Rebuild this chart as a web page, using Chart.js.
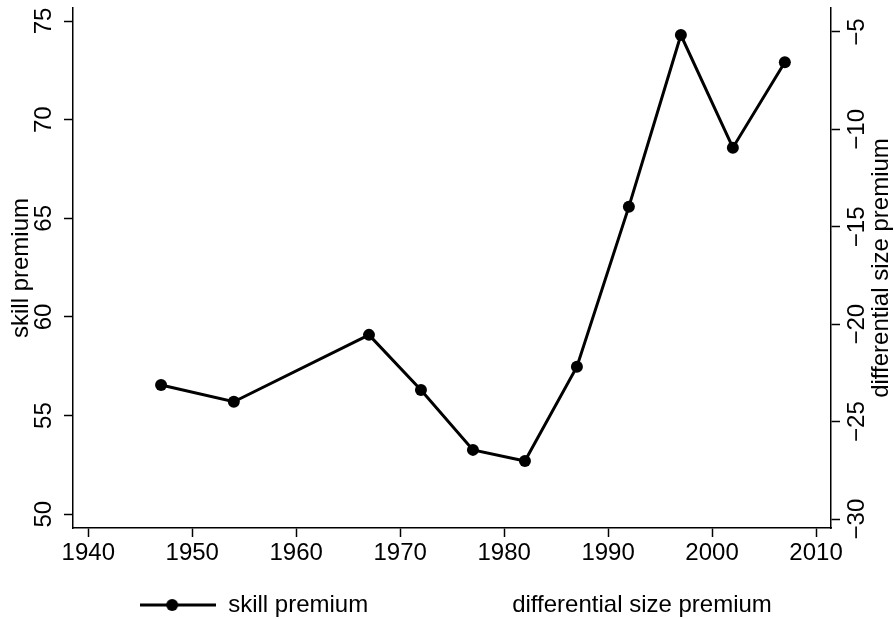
<!DOCTYPE html>
<html>
<head>
<meta charset="utf-8">
<script src="https://cdn.jsdelivr.net/npm/chart.js@4.4.1/dist/chart.umd.min.js"></script>
<style>
  html, body { margin: 0; padding: 0; background: #fff; }
</style>
</head>
<body>
<canvas id="chart" width="894" height="619"></canvas>
<script>
// data
var years = [1947, 1954, 1967, 1972, 1977, 1982, 1987, 1992, 1997, 2002, 2007];
var skillPremium = [56.55, 55.7, 59.09, 56.3, 53.26, 52.7, 57.48, 65.59, 74.29, 68.58, 72.91];
var sizePremium = []; // no marks visible for this series

var xTicks = [1940, 1950, 1960, 1970, 1980, 1990, 2000, 2010];
var leftTicks = [50, 55, 60, 65, 70, 75];
var rightTicks = [-30, -25, -20, -15, -10, -5];

var FONT = '"Liberation Sans", Arial, Helvetica, sans-serif';
Chart.defaults.font.family = FONT;
Chart.defaults.font.size = 24;
Chart.defaults.color = '#000';

// legend symbol: line with a dot
function lineSymbol(withDot) {
	var c = document.createElement('canvas');
	c.width = 76;
	c.height = 14;
	if (withDot) {
		var g = c.getContext('2d');
		g.strokeStyle = '#000';
		g.fillStyle = '#000';
		g.lineWidth = 3;
		g.beginPath();
		g.moveTo(0, 7);
		g.lineTo(76, 7);
		g.stroke();
		g.beginPath();
		g.arc(32, 7, 6, 0, Math.PI * 2);
		g.fill();
	}
	return c;
}
var symbols = [lineSymbol(true), lineSymbol(false)];

function minusFmt(v) {
	return v < 0 ? '\u2212' + Math.abs(v) : String(v);
}

function fixedTicks(list) {
	return function(scale) {
		scale.ticks = list.map(function(v) { return { value: v }; });
	};
}

// fixed box size, and no extra room for labels hanging over the ends
function fixSize(key, px) {
	return function(s) {
		s[key] = px;
		s.paddingTop = 0;
		s.paddingBottom = 0;
		s.paddingLeft = 0;
		s.paddingRight = 0;
	};
}

var axisGrid = {
	drawOnChartArea: false,
	drawTicks: true,
	tickLength: 9,
	tickColor: '#000',
	tickWidth: 1.5
};
var axisBorder = { color: '#000', width: 1.5 };

// right axis title reads bottom-to-top, so draw it here
var rightTitle = {
	id: 'rightTitle',
	afterDraw: function(chart) {
		var ctx = chart.ctx;
		var area = chart.chartArea;
		ctx.save();
		ctx.translate(881, (area.top + area.bottom) / 2);
		ctx.rotate(-Math.PI / 2);
		ctx.font = '24px ' + FONT;
		ctx.fillStyle = '#000';
		ctx.textAlign = 'center';
		ctx.textBaseline = 'middle';
		ctx.fillText('differential size premium', 0, 0);
		ctx.restore();
	}
};

// pull the legend up a little, closer to the x labels
var legendShift = {
	id: 'legendShift',
	afterLayout: function(chart) {
		if (chart.legend) {
			chart.legend.top -= 31;
			chart.legend.bottom -= 31;
		}
	}
};

var ctx = document.getElementById('chart').getContext('2d');
var chart = new Chart(ctx, {
	type: 'line',
	data: {
		datasets: [{
			label: 'skill premium',
			data: years.map(function(y, i) { return { x: y, y: skillPremium[i] }; }),
			borderColor: '#000',
			backgroundColor: '#000',
			borderWidth: 3,
			pointRadius: 6,
			pointBackgroundColor: '#000',
			pointBorderWidth: 0,
			tension: 0,
			yAxisID: 'y'
		}, {
			label: 'differential size premium',
			data: sizePremium,
			borderColor: '#000',
			borderWidth: 3,
			pointRadius: 0,
			yAxisID: 'y1'
		}]
	},
	options: {
		responsive: false,
		animation: false,
		layout: { autoPadding: false, padding: { top: 8, left: 18, right: 0, bottom: -39 } },
		plugins: {
			tooltip: { enabled: false },
			legend: {
				position: 'bottom',
				labels: {
					usePointStyle: true,
					pointStyleWidth: 76,
					padding: 56,
					color: '#000',
					font: { size: 24 },
					generateLabels: function(chart) {
						var items = Chart.defaults.plugins.legend.labels.generateLabels(chart);
						items.forEach(function(it, i) { it.pointStyle = symbols[i]; });
						return items;
					}
				}
			}
		},
		scales: {
			x: {
				type: 'linear',
				position: 'bottom',
				min: 1938.53,
				max: 2011.44,
				afterBuildTicks: fixedTicks(xTicks),
				afterFit: fixSize('height', 40),
				border: axisBorder,
				grid: axisGrid,
				ticks: {
					padding: 2,
					maxRotation: 0,
					autoSkip: false,
					callback: function(v) { return String(v); }
				}
			},
			y: {
				position: 'left',
				min: 49.3,
				max: 75.66,
				afterBuildTicks: fixedTicks(leftTicks),
				afterFit: fixSize('width', 55),
				border: axisBorder,
				grid: axisGrid,
				ticks: {
					minRotation: 90,
					maxRotation: 90,
					crossAlign: 'center',
					padding: 6.7,
					autoSkip: false
				},
				title: {
					display: true,
					text: 'skill premium',
					font: { size: 24 },
					padding: { top: -11.4, bottom: 0 }
				}
			},
			y1: {
				position: 'right',
				min: -30.46,
				max: -3.77,
				afterBuildTicks: fixedTicks(rightTicks),
				afterFit: fixSize('width', 63),
				border: axisBorder,
				grid: axisGrid,
				ticks: {
					minRotation: 90,
					maxRotation: 90,
					crossAlign: 'center',
					padding: -3.3,
					autoSkip: false,
					callback: minusFmt
				}
			}
		}
	},
	plugins: [rightTitle, legendShift]
});
</script>
</body>
</html>
